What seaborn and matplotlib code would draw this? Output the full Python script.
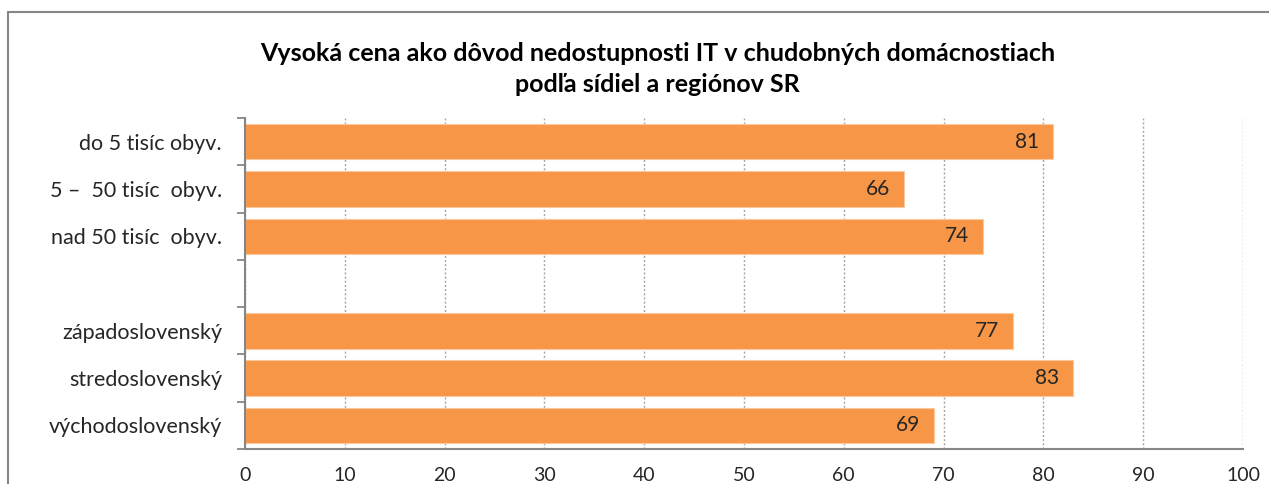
import matplotlib
matplotlib.use("Agg")
import matplotlib.pyplot as plt
import seaborn as sns
import pandas as pd
from matplotlib.patches import Rectangle

# data
categories = ["do 5 tisíc obyv.", "5 –  50 tisíc  obyv.", "nad 50 tisíc  obyv.",
              "západoslovenský", "stredoslovenský", "východoslovenský"]
values = [81, 66, 74, 77, 83, 69]
order = categories[:3] + [" "] + categories[3:]
xticks = [0, 10, 20, 30, 40, 50, 60, 70, 80, 90, 100]
title = "Vysoká cena ako dôvod nedostupnosti IT v chudobných domácnostiach\npodľa sídiel a regiónov SR"

sns.set_style("white")
plt.rcParams['font.family'] = ['Lato', 'DejaVu Sans']

df = pd.DataFrame({"kat": categories, "val": values})

fig = plt.figure(figsize=(12.69, 4.84), dpi=100)
ax = fig.add_axes([0.193, 0.0723, 0.7865, 0.6837])

sns.barplot(data=df, x="val", y="kat", order=order, color="#F79646",
            saturation=1, width=0.75, ax=ax, edgecolor="#FBC9A0", linewidth=0.8)

ax.set_xlim(0, 100)
ax.set_ylim(6.5, -0.5)
ax.set_xticks(xticks)
ax.tick_params(axis="x", length=0, labelsize=14, pad=13)
ax.set_xlabel("")
ax.set_ylabel("")

# gridlines
ax.set_axisbelow(True)
ax.xaxis.grid(True, linestyle=(0, (1.5, 1.5)), color="#A6A6A6", linewidth=1)

# y ticks: marks between categories, labels at centers
ax.set_yticks([i - 0.5 for i in range(len(order) + 1)])
ax.set_yticklabels([])
ax.set_yticks(range(len(order)), minor=True)
ax.set_yticklabels(order, minor=True)
ax.tick_params(axis="y", which="major", length=6, width=1.3, color="#868686", left=True)
ax.tick_params(axis="y", which="minor", length=0, labelsize=15.5, pad=16.5)

for s in ["top", "right"]:
    ax.spines[s].set_visible(False)
for s in ["left", "bottom"]:
    ax.spines[s].set_color("#868686")
    ax.spines[s].set_linewidth(1.5)

# value labels
for cat, v in zip(categories, values):
    ax.annotate(str(v), xy=(v, order.index(cat)), xytext=(-10, 0),
                textcoords="offset points", ha="right", va="center", fontsize=15)

fig.text(0.518, 0.857, title, ha="center", va="center", fontsize=18,
         fontweight="bold", linespacing=1.4, color="black")

# outer chart frame (cut off at right and bottom)
fig.patches.append(Rectangle((8 / 1269, -0.2), 1.2, 1.2 - 12 / 484,
                             transform=fig.transFigure, fill=False,
                             edgecolor="#868686", linewidth=1.5))

fig.savefig("out.png", dpi=100)
